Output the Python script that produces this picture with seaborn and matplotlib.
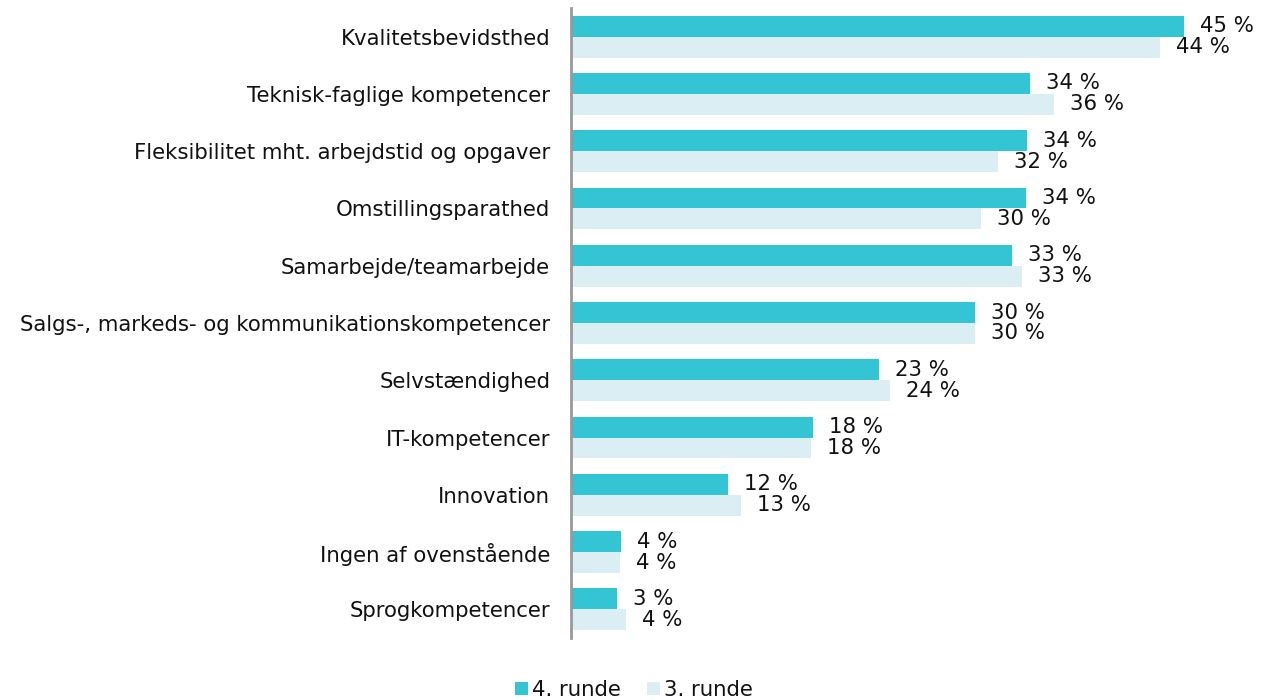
import numpy as np
import pandas as pd
import matplotlib.pyplot as plt
import seaborn as sns

# data (percent)
categories = [
    "Kvalitetsbevidsthed",
    "Teknisk-faglige kompetencer",
    "Fleksibilitet mht. arbejdstid og opgaver",
    "Omstillingsparathed",
    "Samarbejde/teamarbejde",
    "Salgs-, markeds- og kommunikationskompetencer",
    "Selvstændighed",
    "IT-kompetencer",
    "Innovation",
    "Ingen af ovenstående",
    "Sprogkompetencer",
]
runde_4 = [45.4, 34.0, 33.8, 33.7, 32.7, 29.9, 22.8, 17.9, 11.6, 3.7, 3.4]
runde_3 = [43.6, 35.8, 31.6, 30.4, 33.4, 29.9, 23.6, 17.8, 12.6, 3.6, 4.1]
series_names = ["4. runde", "3. runde"]

teal = "#33C5D3"
light = "#DAEEF3"

df = pd.DataFrame({"kategori": categories, series_names[0]: runde_4, series_names[1]: runde_3})
long = df.melt(id_vars="kategori", var_name="runde", value_name="andel")

sns.set_style("white")
plt.rcParams['font.family'] = ['DejaVu Sans']
fs = 15.3

fig = plt.figure(figsize=(12.68, 7.0), dpi=100)
ax = fig.add_axes([571 / 1268, 62 / 700, 675 / 1268, 630 / 700])

sns.barplot(data=long, y="kategori", x="andel", hue="runde", orient="h",
            palette=[teal, light], width=0.73, saturation=1, linewidth=0, ax=ax)

for cont in ax.containers:
    vals = [b.get_width() for b in cont]
    ax.bar_label(cont, labels=[f"{v:.0f} %" for v in vals], padding=11.5,
                 fontsize=fs, color="#111111")

ax.set_xlim(0, 50)
ax.set_ylim(10.5, -0.5)
ax.set_xlabel("")
ax.set_ylabel("")
ax.set_xticks([])
ax.tick_params(axis="y", length=0, pad=15, labelsize=fs, labelcolor="#111111")
for s in ["top", "right", "bottom"]:
    ax.spines[s].set_visible(False)
ax.spines["left"].set_color("#999999")
ax.spines["left"].set_linewidth(2)

handles, labels = ax.get_legend_handles_labels()
ax.get_legend().remove()
fig.legend(handles, labels, loc="center", bbox_to_anchor=(0.5, 1 - 690 / 700),
           ncol=2, frameon=False, fontsize=fs, handlelength=0.6, handleheight=0.6,
           handletextpad=0.2, columnspacing=1.2, labelcolor="#111111")

fig.savefig("out.png", dpi=100)
